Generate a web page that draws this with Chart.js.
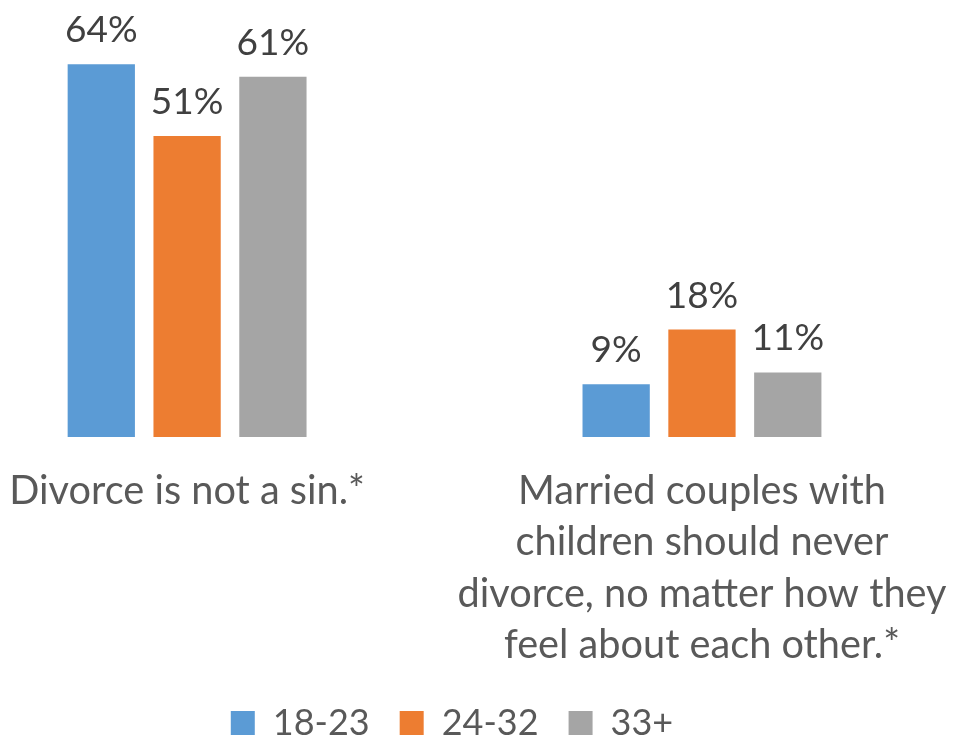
<!DOCTYPE html>
<html>
<head>
<meta charset="utf-8">
<script src="https://cdn.jsdelivr.net/npm/chart.js@4"></script>
<style>
  html, body { margin: 0; padding: 0; background: #fff; }
  #wrap { width: 955px; height: 737px; }
</style>
</head>
<body>
<div id="wrap"><canvas id="divorceChart" width="955" height="737"></canvas></div>
<script>
// categories and series
const categories = [
    ["Divorce is not a sin.*"],
    ["Married couples with", "children should never", "divorce, no matter how they", "feel about each other.*"]
];
const seriesNames = ["18-23", "24-32", "33+"];
const seriesColors = ["#5B9BD5", "#ED7D31", "#A5A5A5"];
const age18to23 = [63.5, 9];
const age24to32 = [51.3, 18.3];
const age33plus = [61.4, 11];

const FONT = "Lato";

// percentage labels above the bars
const barLabels = {
    id: "barLabels",
    afterDatasetsDraw(chart) {
        const ctx = chart.ctx;
        ctx.save();
        ctx.font = "37px " + FONT;
        ctx.fillStyle = "#404040";
        ctx.textAlign = "center";
        ctx.textBaseline = "alphabetic";
        chart.data.datasets.forEach((ds, i) => {
            chart.getDatasetMeta(i).data.forEach((bar, j) => {
                ctx.fillText(Math.round(ds.data[j].y) + "%", bar.x, bar.y - 22);
            });
        });
        ctx.restore();
    }
};

function toPoints(values) {
    return values.map((v, i) => ({ x: i, y: v }));
}

const allSeries = [age18to23, age24to32, age33plus];

let ctx = document.getElementById("divorceChart").getContext("2d");
window.myChart = new Chart(ctx, {
    type: "bar",
    data: {
        datasets: allSeries.map((vals, i) => ({
            label: seriesNames[i],
            data: toPoints(vals),
            backgroundColor: seriesColors[i],
            borderWidth: 0,
            categoryPercentage: 0.5,
            barPercentage: 0.784
        }))
    },
    options: {
        responsive: false,
        animation: false,
        layout: { padding: { left: 0, right: 51, top: 0, bottom: -14 } },
        plugins: {
            tooltip: { enabled: false },
            legend: {
                position: "bottom",
                labels: {
                    boxWidth: 24,
                    boxHeight: 24,
                    padding: 30,
                    color: "#595959",
                    font: { family: FONT, size: 36, lineHeight: 0.8 }
                }
            }
        },
        scales: {
            x: {
                type: "linear",
                offset: false,
                min: -0.3634,
                max: 1.3924,
                bounds: "data",
                grid: { display: false, drawTicks: false },
                border: { display: false },
                ticks: {
                    padding: 28,
                    maxRotation: 0,
                    autoSkip: false,
                    color: "#595959",
                    font: { family: FONT, size: 39.7, lineHeight: 1.3 },
                    callback: (value) => categories[value] || ""
                },
                afterBuildTicks: (scale) => {
                    scale.ticks = categories.map((c, i) => ({ value: i }));
                },
                afterFit: (scale) => {
                    scale.paddingLeft = 0;
                    scale.paddingRight = 0;
                    scale.height = 238;
                }
            },
            y: {
                display: false,
                min: 0,
                max: 74.47
            }
        }
    },
    plugins: [barLabels]
});
</script>
</body>
</html>
